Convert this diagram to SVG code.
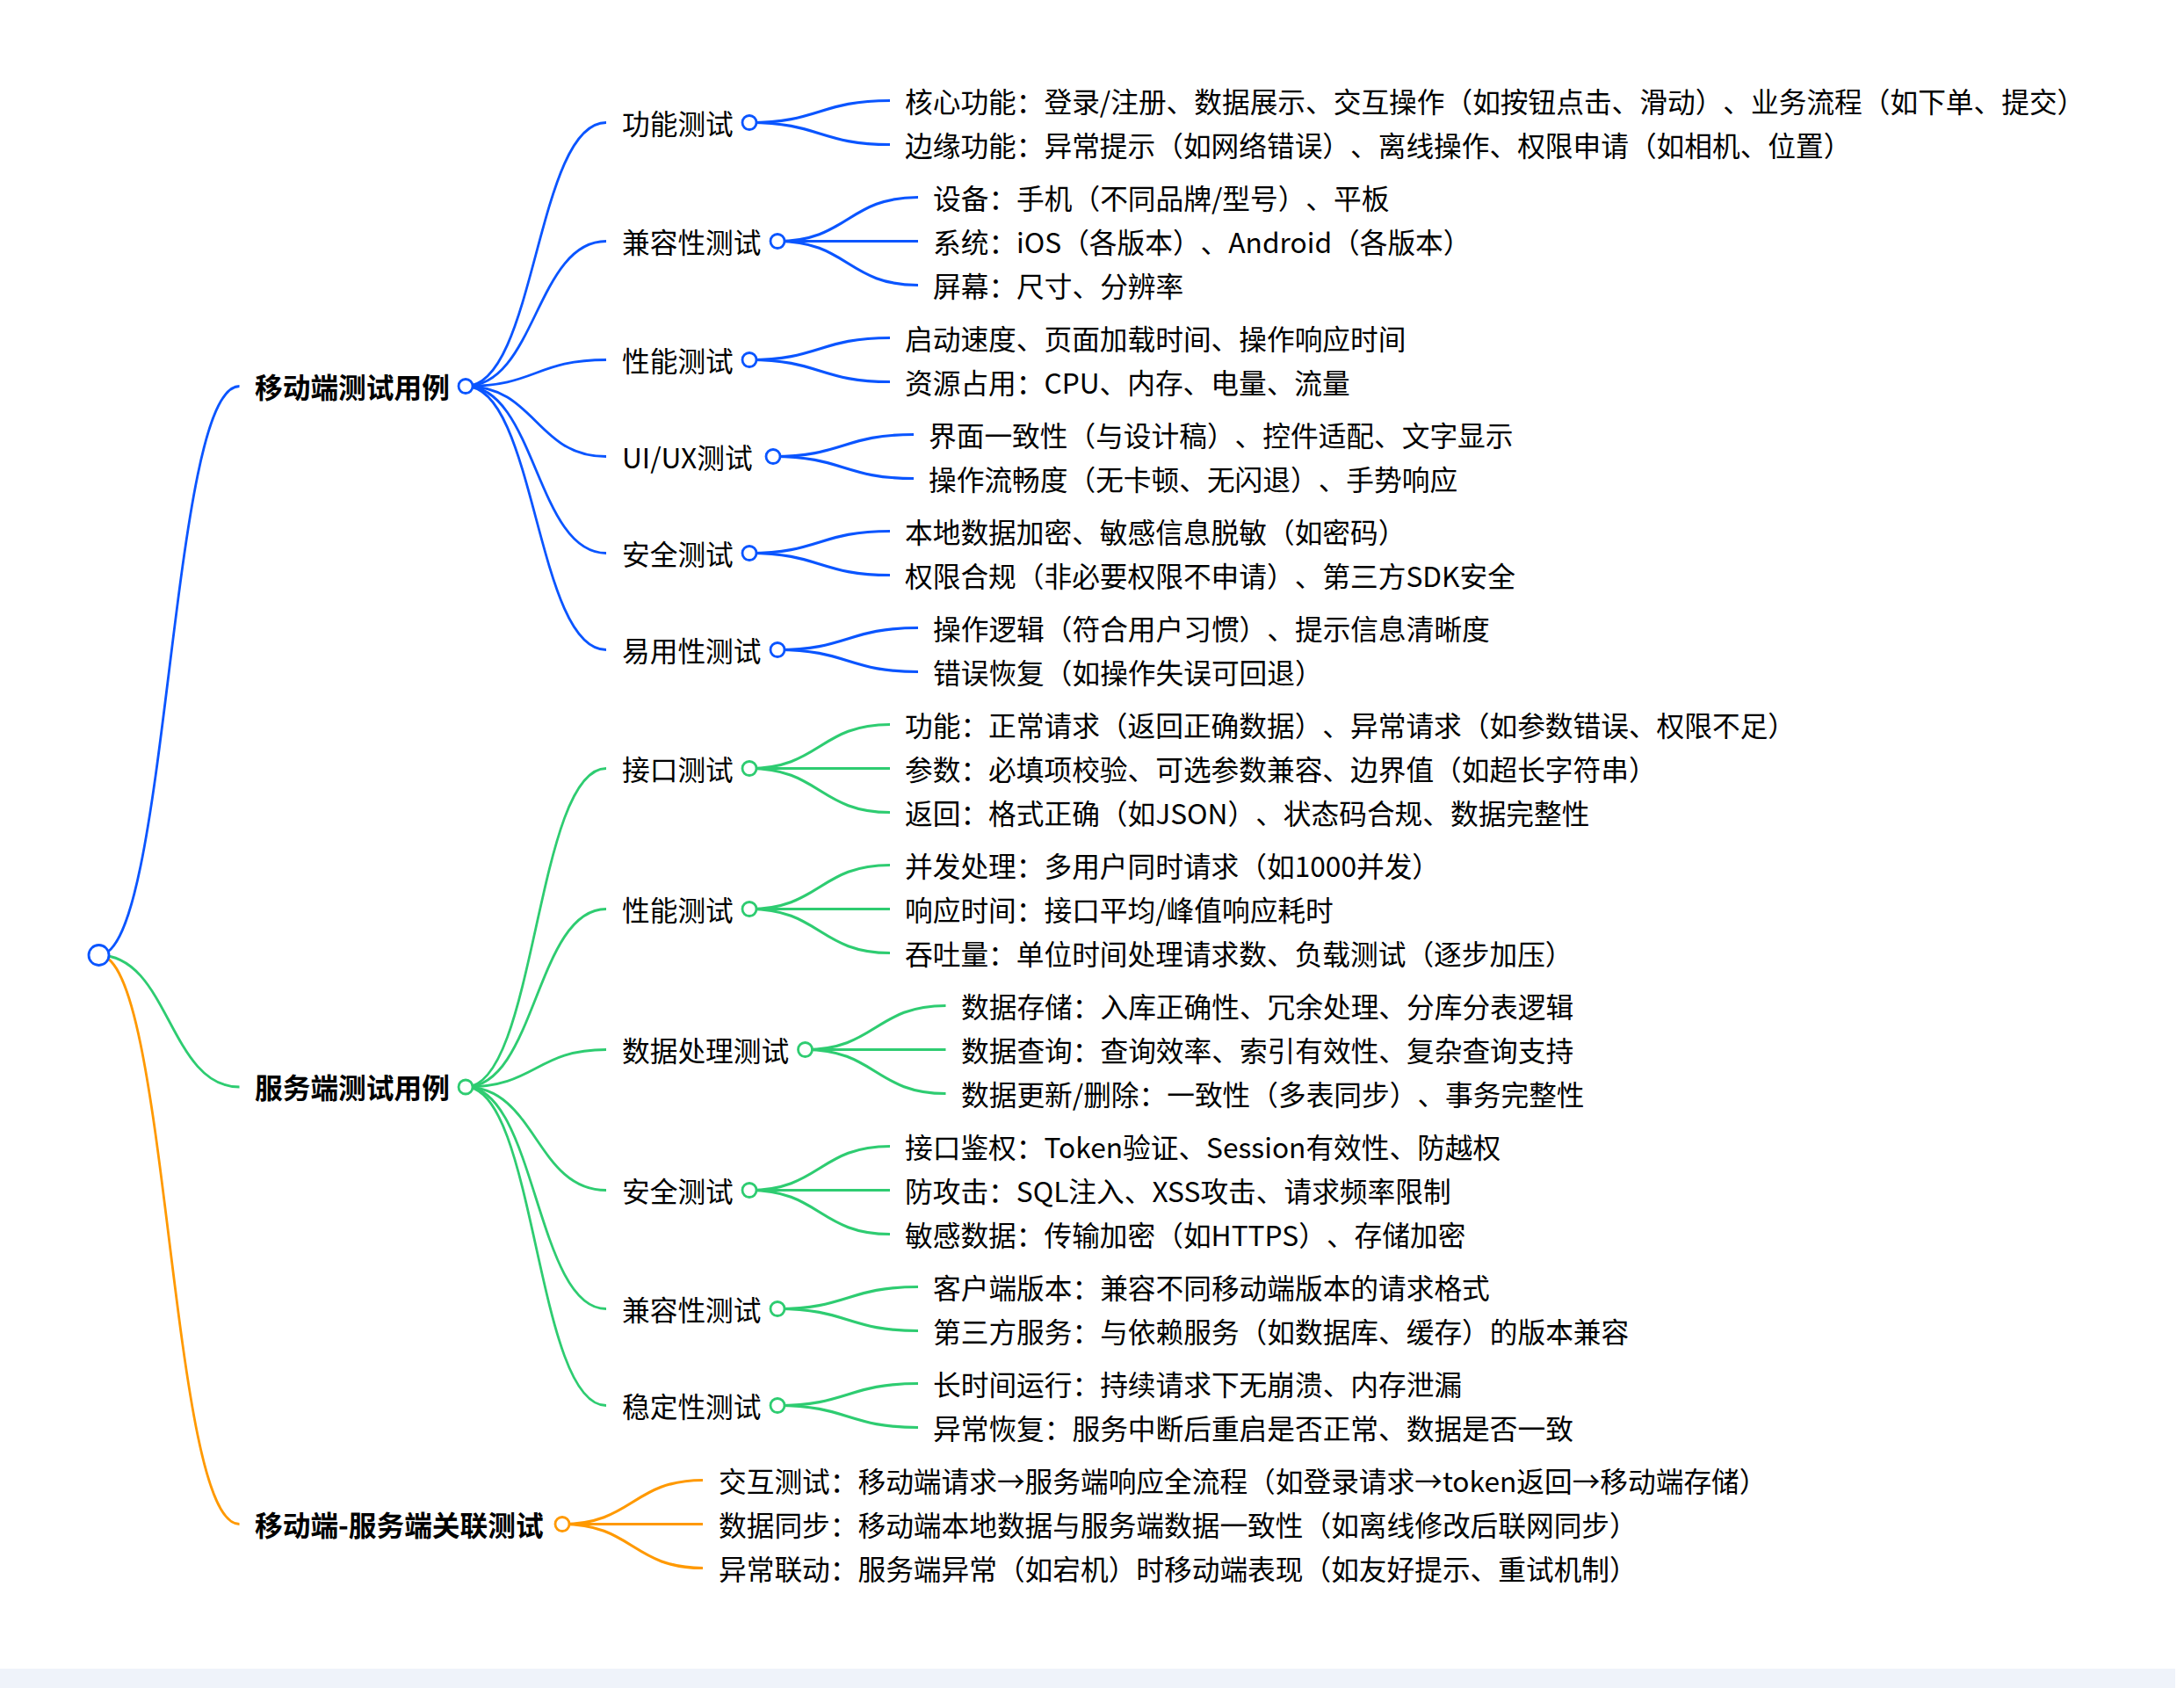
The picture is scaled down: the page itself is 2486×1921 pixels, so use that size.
<svg xmlns="http://www.w3.org/2000/svg" width="2486" height="1921" viewBox="0 0 2486 1921">
<style>
text{font-family:"Noto Sans CJK SC","Microsoft YaHei","Noto Sans",sans-serif;font-size:31.7px;fill:#000;text-spacing-trim:space-all;font-feature-settings:"chws" 0,"halt" 0,"palt" 0}
.b{font-weight:700}
.lk{fill:none}
.l0{stroke-width:2.8}
.l1{stroke-width:2.8}
.l2{stroke-width:3.2}
.cb{stroke:#0a55ff}
.cg{stroke:#2ecc71}
.co{stroke:#ff9900}
circle{fill:#fff;stroke-width:2.8}
</style>
<rect x="0" y="0" width="2486" height="1921" fill="#fff"/>
<rect x="0" y="1899" width="2476" height="22" fill="#eff3fa"/>
<g id="connectors" class="lk">
<path class="l0 cb" d="M112.5,1087 C192.5,1087 192.5,439.5 272.5,439.5"/>
<path class="l0 cg" d="M112.5,1087 C192.5,1087 192.5,1237 272.5,1237"/>
<path class="l0 co" d="M112.5,1087 C192.5,1087 192.5,1734.5 272.5,1734.5"/>
<path class="l1 cb" d="M530,439.5 C610,439.5 610,139.5 690,139.5"/>
<path class="l1 cb" d="M530,439.5 C610,439.5 610,274.5 690,274.5"/>
<path class="l1 cb" d="M530,439.5 C610,439.5 610,409.5 690,409.5"/>
<path class="l1 cb" d="M530,439.5 C610,439.5 610,519.5 690,519.5"/>
<path class="l1 cb" d="M530,439.5 C610,439.5 610,629.5 690,629.5"/>
<path class="l1 cb" d="M530,439.5 C610,439.5 610,739.5 690,739.5"/>
<path class="l1 cg" d="M530,1237 C610,1237 610,874.5 690,874.5"/>
<path class="l1 cg" d="M530,1237 C610,1237 610,1034.5 690,1034.5"/>
<path class="l1 cg" d="M530,1237 C610,1237 610,1194.5 690,1194.5"/>
<path class="l1 cg" d="M530,1237 C610,1237 610,1354.5 690,1354.5"/>
<path class="l1 cg" d="M530,1237 C610,1237 610,1489.5 690,1489.5"/>
<path class="l1 cg" d="M530,1237 C610,1237 610,1599.5 690,1599.5"/>
<path class="l2 cb" d="M853,139.5 C933,139.5 933,114.5 1013,114.5"/>
<path class="l2 cb" d="M853,139.5 C933,139.5 933,164.5 1013,164.5"/>
<path class="l2 cb" d="M885,274.5 C965,274.5 965,224.5 1045,224.5"/>
<path class="l2 cb" d="M885,274.5 C965,274.5 965,274.5 1045,274.5"/>
<path class="l2 cb" d="M885,274.5 C965,274.5 965,324.5 1045,324.5"/>
<path class="l2 cb" d="M853,409.5 C933,409.5 933,384.5 1013,384.5"/>
<path class="l2 cb" d="M853,409.5 C933,409.5 933,434.5 1013,434.5"/>
<path class="l2 cb" d="M880,519.5 C960,519.5 960,494.5 1040,494.5"/>
<path class="l2 cb" d="M880,519.5 C960,519.5 960,544.5 1040,544.5"/>
<path class="l2 cb" d="M853,629.5 C933,629.5 933,604.5 1013,604.5"/>
<path class="l2 cb" d="M853,629.5 C933,629.5 933,654.5 1013,654.5"/>
<path class="l2 cb" d="M885,739.5 C965,739.5 965,714.5 1045,714.5"/>
<path class="l2 cb" d="M885,739.5 C965,739.5 965,764.5 1045,764.5"/>
<path class="l2 cg" d="M853,874.5 C933,874.5 933,824.5 1013,824.5"/>
<path class="l2 cg" d="M853,874.5 C933,874.5 933,874.5 1013,874.5"/>
<path class="l2 cg" d="M853,874.5 C933,874.5 933,924.5 1013,924.5"/>
<path class="l2 cg" d="M853,1034.5 C933,1034.5 933,984.5 1013,984.5"/>
<path class="l2 cg" d="M853,1034.5 C933,1034.5 933,1034.5 1013,1034.5"/>
<path class="l2 cg" d="M853,1034.5 C933,1034.5 933,1084.5 1013,1084.5"/>
<path class="l2 cg" d="M916.5,1194.5 C996.5,1194.5 996.5,1144.5 1076.5,1144.5"/>
<path class="l2 cg" d="M916.5,1194.5 C996.5,1194.5 996.5,1194.5 1076.5,1194.5"/>
<path class="l2 cg" d="M916.5,1194.5 C996.5,1194.5 996.5,1244.5 1076.5,1244.5"/>
<path class="l2 cg" d="M853,1354.5 C933,1354.5 933,1304.5 1013,1304.5"/>
<path class="l2 cg" d="M853,1354.5 C933,1354.5 933,1354.5 1013,1354.5"/>
<path class="l2 cg" d="M853,1354.5 C933,1354.5 933,1404.5 1013,1404.5"/>
<path class="l2 cg" d="M885,1489.5 C965,1489.5 965,1464.5 1045,1464.5"/>
<path class="l2 cg" d="M885,1489.5 C965,1489.5 965,1514.5 1045,1514.5"/>
<path class="l2 cg" d="M885,1599.5 C965,1599.5 965,1574.5 1045,1574.5"/>
<path class="l2 cg" d="M885,1599.5 C965,1599.5 965,1624.5 1045,1624.5"/>
<path class="l2 co" d="M640,1734.5 C720,1734.5 720,1684.5 800,1684.5"/>
<path class="l2 co" d="M640,1734.5 C720,1734.5 720,1734.5 800,1734.5"/>
<path class="l2 co" d="M640,1734.5 C720,1734.5 720,1784.5 800,1784.5"/>
</g>
<g id="root"><circle class="cb" cx="112.5" cy="1087" r="11.5"/></g>
<g id="n-mobile"><text class="b" x="290" y="452.5">移动端测试用例</text><circle class="cb" cx="530" cy="439.5" r="8"/></g>
<g id="n-server"><text class="b" x="290" y="1250">服务端测试用例</text><circle class="cg" cx="530" cy="1237" r="8"/></g>
<g id="n-link"><text class="b" x="290" y="1747.5">移动端-服务端关联测试</text><circle class="co" cx="640" cy="1734.5" r="8"/></g>

<g id="m-func"><text x="708" y="152.5">功能测试</text><circle class="cb" cx="853" cy="139.5" r="8"/></g>
<g id="m-func-1"><text x="1030" y="127.5">核心功能：登录/注册、数据展示、交互操作（如按钮点击、滑动）、业务流程（如下单、提交）</text></g>
<g id="m-func-2"><text x="1030" y="177.5">边缘功能：异常提示（如网络错误）、离线操作、权限申请（如相机、位置）</text></g>

<g id="m-compat"><text x="708" y="287.5">兼容性测试</text><circle class="cb" cx="885" cy="274.5" r="8"/></g>
<g id="m-compat-1"><text x="1062" y="237.5">设备：手机（不同品牌/型号）、平板</text></g>
<g id="m-compat-2"><text x="1062" y="287.5">系统：iOS（各版本）、Android（各版本）</text></g>
<g id="m-compat-3"><text x="1062" y="337.5">屏幕：尺寸、分辨率</text></g>

<g id="m-perf"><text x="708" y="422.5">性能测试</text><circle class="cb" cx="853" cy="409.5" r="8"/></g>
<g id="m-perf-1"><text x="1030" y="397.5">启动速度、页面加载时间、操作响应时间</text></g>
<g id="m-perf-2"><text x="1030" y="447.5">资源占用：CPU、内存、电量、流量</text></g>

<g id="m-ui"><text x="708" y="532.5">UI/UX测试</text><circle class="cb" cx="880" cy="519.5" r="8"/></g>
<g id="m-ui-1"><text x="1057" y="507.5">界面一致性（与设计稿）、控件适配、文字显示</text></g>
<g id="m-ui-2"><text x="1057" y="557.5">操作流畅度（无卡顿、无闪退）、手势响应</text></g>

<g id="m-sec"><text x="708" y="642.5">安全测试</text><circle class="cb" cx="853" cy="629.5" r="8"/></g>
<g id="m-sec-1"><text x="1030" y="617.5">本地数据加密、敏感信息脱敏（如密码）</text></g>
<g id="m-sec-2"><text x="1030" y="667.5">权限合规（非必要权限不申请）、第三方SDK安全</text></g>

<g id="m-use"><text x="708" y="752.5">易用性测试</text><circle class="cb" cx="885" cy="739.5" r="8"/></g>
<g id="m-use-1"><text x="1062" y="727.5">操作逻辑（符合用户习惯）、提示信息清晰度</text></g>
<g id="m-use-2"><text x="1062" y="777.5">错误恢复（如操作失误可回退）</text></g>

<g id="s-api"><text x="708" y="887.5">接口测试</text><circle class="cg" cx="853" cy="874.5" r="8"/></g>
<g id="s-api-1"><text x="1030" y="837.5">功能：正常请求（返回正确数据）、异常请求（如参数错误、权限不足）</text></g>
<g id="s-api-2"><text x="1030" y="887.5">参数：必填项校验、可选参数兼容、边界值（如超长字符串）</text></g>
<g id="s-api-3"><text x="1030" y="937.5">返回：格式正确（如JSON）、状态码合规、数据完整性</text></g>

<g id="s-perf"><text x="708" y="1047.5">性能测试</text><circle class="cg" cx="853" cy="1034.5" r="8"/></g>
<g id="s-perf-1"><text x="1030" y="997.5">并发处理：多用户同时请求（如1000并发）</text></g>
<g id="s-perf-2"><text x="1030" y="1047.5">响应时间：接口平均/峰值响应耗时</text></g>
<g id="s-perf-3"><text x="1030" y="1097.5">吞吐量：单位时间处理请求数、负载测试（逐步加压）</text></g>

<g id="s-data"><text x="708" y="1207.5">数据处理测试</text><circle class="cg" cx="916.5" cy="1194.5" r="8"/></g>
<g id="s-data-1"><text x="1094" y="1157.5">数据存储：入库正确性、冗余处理、分库分表逻辑</text></g>
<g id="s-data-2"><text x="1094" y="1207.5">数据查询：查询效率、索引有效性、复杂查询支持</text></g>
<g id="s-data-3"><text x="1094" y="1257.5">数据更新/删除：一致性（多表同步）、事务完整性</text></g>

<g id="s-sec"><text x="708" y="1367.5">安全测试</text><circle class="cg" cx="853" cy="1354.5" r="8"/></g>
<g id="s-sec-1"><text x="1030" y="1317.5">接口鉴权：Token验证、Session有效性、防越权</text></g>
<g id="s-sec-2"><text x="1030" y="1367.5">防攻击：SQL注入、XSS攻击、请求频率限制</text></g>
<g id="s-sec-3"><text x="1030" y="1417.5">敏感数据：传输加密（如HTTPS）、存储加密</text></g>

<g id="s-compat"><text x="708" y="1502.5">兼容性测试</text><circle class="cg" cx="885" cy="1489.5" r="8"/></g>
<g id="s-compat-1"><text x="1062" y="1477.5">客户端版本：兼容不同移动端版本的请求格式</text></g>
<g id="s-compat-2"><text x="1062" y="1527.5">第三方服务：与依赖服务（如数据库、缓存）的版本兼容</text></g>

<g id="s-stab"><text x="708" y="1612.5">稳定性测试</text><circle class="cg" cx="885" cy="1599.5" r="8"/></g>
<g id="s-stab-1"><text x="1062" y="1587.5">长时间运行：持续请求下无崩溃、内存泄漏</text></g>
<g id="s-stab-2"><text x="1062" y="1637.5">异常恢复：服务中断后重启是否正常、数据是否一致</text></g>

<g id="x-1"><text x="818" y="1697.5">交互测试：移动端请求→服务端响应全流程（如登录请求→token返回→移动端存储）</text></g>
<g id="x-2"><text x="818" y="1747.5">数据同步：移动端本地数据与服务端数据一致性（如离线修改后联网同步）</text></g>
<g id="x-3"><text x="818" y="1797.5">异常联动：服务端异常（如宕机）时移动端表现（如友好提示、重试机制）</text></g>
</svg>
